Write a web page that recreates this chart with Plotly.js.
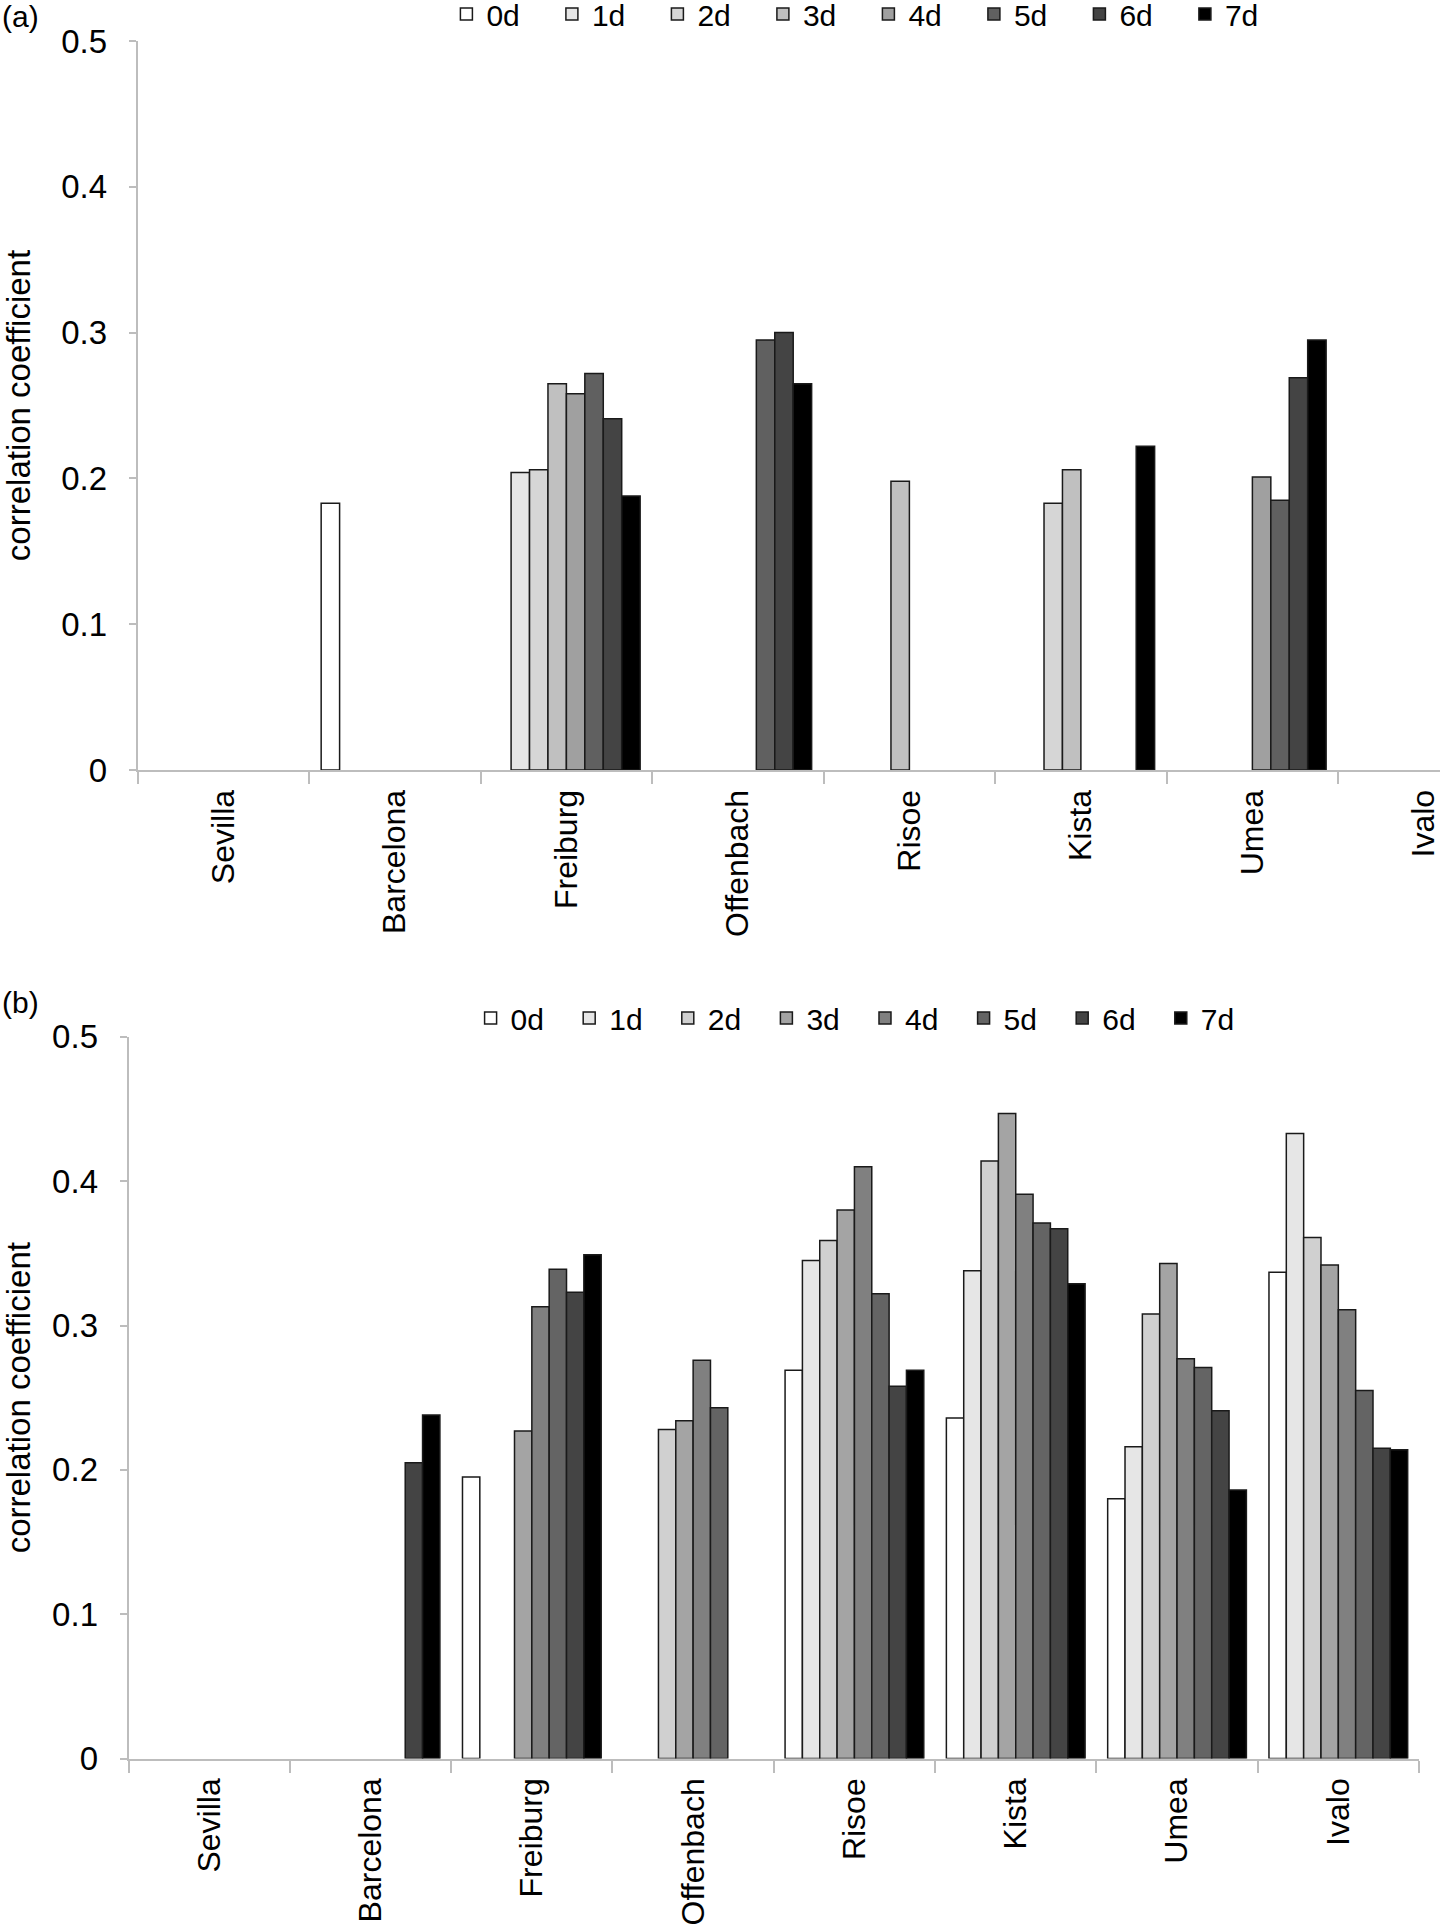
<!DOCTYPE html>
<html>
<head>
<meta charset="utf-8">
<script src="https://cdn.plot.ly/plotly-3.0.1.min.js"></script>
<style>
  html, body { margin: 0; padding: 0; background: #fff; }
  #chart { width: 1440px; height: 1932px; }
</style>
</head>
<body>
<div id="chart"></div>
<script>
// Correlation coefficient per station and lag (0d..7d), two panels.

const sites = ['Sevilla', 'Barcelona', 'Freiburg', 'Offenbach', 'Risoe', 'Kista', 'Umea', 'Ivalo'];
const lags = ['0d', '1d', '2d', '3d', '4d', '5d', '6d', '7d'];

// panel (a), one array per lag, values per site (null = no bar)
const a0d = [null, 0.183, null, null, null, null, null, null];
const a1d = [null, null, 0.204, null, null, null, null, null];
const a2d = [null, null, 0.206, null, null, 0.183, null, null];
const a3d = [null, null, 0.265, null, 0.198, 0.206, null, null];
const a4d = [null, null, 0.258, null, null, null, 0.201, null];
const a5d = [null, null, 0.272, 0.295, null, null, 0.185, null];
const a6d = [null, null, 0.241, 0.300, null, null, 0.269, null];
const a7d = [null, null, 0.188, 0.265, null, 0.222, 0.295, null];

// panel (b)
const b0d = [null, null, 0.195, null, 0.269, 0.236, 0.180, 0.337];
const b1d = [null, null, null, null, 0.345, 0.338, 0.216, 0.433];
const b2d = [null, null, null, 0.228, 0.359, 0.414, 0.308, 0.361];
const b3d = [null, null, 0.227, 0.234, 0.380, 0.447, 0.343, 0.342];
const b4d = [null, null, 0.313, 0.276, 0.410, 0.391, 0.277, 0.311];
const b5d = [null, null, 0.339, 0.243, 0.322, 0.371, 0.271, 0.255];
const b6d = [null, 0.205, 0.323, null, 0.258, 0.367, 0.241, 0.215];
const b7d = [null, 0.238, 0.349, null, 0.269, 0.329, 0.186, 0.214];

const panelA = [a0d, a1d, a2d, a3d, a4d, a5d, a6d, a7d];
const panelB = [b0d, b1d, b2d, b3d, b4d, b5d, b6d, b7d];

const greysA = ['#ffffff', '#e6e6e6', '#d6d6d6', '#c0c0c0', '#a0a0a0', '#606060', '#444444', '#000000'];
const greysB = ['#ffffff', '#e6e6e6', '#d0d0d0', '#a4a4a4', '#808080', '#646464', '#444444', '#000000'];

const FONT = 'Liberation Sans, Arial, sans-serif';
const AXIS_GREY = '#bdbdbd';

const traces = [];
lags.forEach((lag, i) => {
    traces.push({
        type: 'bar', name: lag, x: sites, y: panelA[i],
        xaxis: 'x', yaxis: 'y', legend: 'legend',
        marker: { color: greysA[i], line: { color: '#1a1a1a', width: 1.5 } },
    });
});
lags.forEach((lag, i) => {
    traces.push({
        type: 'bar', name: lag, x: sites, y: panelB[i],
        xaxis: 'x2', yaxis: 'y2', legend: 'legend2',
        marker: { color: greysB[i], line: { color: '#1a1a1a', width: 1.5 } },
    });
});

const xBase = {
    type: 'category', categoryorder: 'array', categoryarray: sites,
    showline: true, linecolor: AXIS_GREY, linewidth: 2,
    ticks: 'outside', tickson: 'boundaries', ticklen: 12, tickwidth: 2, tickcolor: AXIS_GREY,
    tickangle: -90, tickfont: { size: 32, color: '#000' }, ticklabelstandoff: 5,
    showgrid: false, zeroline: false, fixedrange: true, automargin: false,
};
const yBase = {
    range: [0, 0.5], dtick: 0.1, tick0: 0,
    showline: true, linecolor: AXIS_GREY, linewidth: 2,
    ticks: 'outside', ticklen: 7, tickwidth: 2, tickcolor: AXIS_GREY,
    tickfont: { size: 33, color: '#000' }, ticklabelstandoff: 15,
    showgrid: false, zeroline: false, automargin: false,
    title: { text: 'correlation coefficient', font: { size: 33, color: '#000' }, standoff: 30 },
};
const legendBase = {
    orientation: 'h', xanchor: 'left', yanchor: 'top',
    font: { size: 30, color: '#000' }, bgcolor: 'rgba(0,0,0,0)',
    itemclick: false, itemdoubleclick: false, traceorder: 'normal',
};

const layout = {
    width: 1440, height: 1932,
    margin: { l: 0, r: 0, t: 0, b: 0, autoexpand: false },
    paper_bgcolor: '#fff', plot_bgcolor: '#fff',
    font: { family: FONT, color: '#000' },
    barmode: 'group', bargap: 0.14, bargroupgap: 0,
    xaxis: { ...xBase, domain: [0.0956, 1], anchor: 'y', range: [-0.5, 7.094] },
    yaxis: { ...yBase, domain: [0.6014, 0.9788], anchor: 'x' },
    xaxis2: { ...xBase, domain: [0.0893, 0.9854], anchor: 'y2', range: [-0.5, 7.5] },
    yaxis2: { ...yBase, domain: [0.0898, 0.4633], anchor: 'x2' },
    legend: { ...legendBase, x: 0.3100, y: 1 + 12 / 1932, entrywidth: 60.5 },
    legend2: { ...legendBase, x: 0.3268, y: 1 - 992 / 1932, entrywidth: 53.6 },
    annotations: [
        { text: '(a)', xref: 'paper', yref: 'paper', x: 0, y: 1 + 2 / 1932, xanchor: 'left', yanchor: 'top', showarrow: false, font: { size: 30 } },
        { text: '(b)', xref: 'paper', yref: 'paper', x: 0, y: 1 - 984 / 1932, xanchor: 'left', yanchor: 'top', showarrow: false, font: { size: 30 } },
    ],
};

Plotly.newPlot('chart', traces, layout, { displayModeBar: false, staticPlot: true });
</script>
</body>
</html>
